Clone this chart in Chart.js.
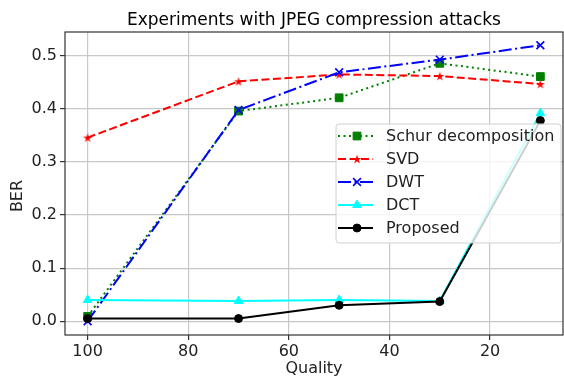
<!DOCTYPE html>
<html>
<head>
<meta charset="utf-8">
<script src="https://cdn.jsdelivr.net/npm/chart.js@4.4.0/dist/chart.umd.min.js"></script>
<style>
  html, body { margin: 0; padding: 0; background: #fff; }
  #wrap { width: 564px; height: 378px; }
</style>
</head>
<body>
<div id="wrap"><canvas id="berChart" width="564" height="378"></canvas></div>
<script>
// JPEG quality (x) and BER of each method
const quality = [100, 70, 50, 30, 10];
const schurBer = [0.009, 0.396, 0.421, 0.486, 0.461];
const svdBer = [0.346, 0.452, 0.465, 0.462, 0.447];
const dwtBer = [0.0, 0.398, 0.469, 0.493, 0.52];
const dctBer = [0.04, 0.038, 0.04, 0.038, 0.392];
const proposedBer = [0.005, 0.005, 0.03, 0.037, 0.378];

const xTicks = [100, 80, 60, 40, 20];
const yTicks = [0.0, 0.1, 0.2, 0.3, 0.4, 0.5];

const FONT = 'DejaVu Sans';
Chart.defaults.font.family = FONT;
Chart.defaults.font.size = 16;
Chart.defaults.color = '#222';

// matplotlib style filled star marker
function makeStar(color, r) {
    const s = 12;
    const c = document.createElement('canvas');
    c.width = s;
    c.height = s;
    const g = c.getContext('2d');
    g.translate(s / 2, s / 2 + 0.5);
    g.beginPath();
    for (let i = 0; i < 10; i++) {
        const rad = i % 2 === 0 ? r : r * 0.382;
        const a = -Math.PI / 2 + i * Math.PI / 5;
        g.lineTo(rad * Math.cos(a), rad * Math.sin(a));
    }
    g.closePath();
    g.fillStyle = color;
    g.fill();
    return c;
}

const series = [
    { label: 'Schur decomposition', values: schurBer, color: '#008000', dash: [2, 3.5], style: 'rect', radius: 5.5, order: 5 },
    { label: 'SVD', values: svdBer, color: '#ff0000', dash: [8, 3.5], style: makeStar('#ff0000', 4.8), radius: 5, order: 4 },
    { label: 'DWT', values: dwtBer, color: '#0000ff', dash: [13, 3.5, 2, 3.5], style: 'crossRot', radius: 5.5, order: 3 },
    { label: 'DCT', values: dctBer, color: '#00ffff', dash: [], style: 'triangle', radius: 5, order: 2 },
    { label: 'Proposed', values: proposedBer, color: '#000000', dash: [], style: 'circle', radius: 4, order: 1 }
];

const datasets = series.map(s => ({
    label: s.label,
    data: quality.map((q, i) => ({ x: q, y: s.values[i] })),
    borderColor: s.color,
    backgroundColor: s.color,
    borderWidth: 2,
    borderDash: s.dash,
    pointStyle: s.style,
    pointRadius: s.radius,
    pointBackgroundColor: s.color,
    pointBorderColor: s.color,
    pointBorderWidth: s.style === 'crossRot' ? 1.6 : 1,
    showLine: true,
    tension: 0,
    order: s.order
}));

// title, frame, y title and legend box
const extras = {
    id: 'extras',
    afterDraw(chart) {
        const ctx = chart.ctx;
        const a = chart.chartArea;
        ctx.save();

        // axes frame
        ctx.strokeStyle = '#333';
        ctx.lineWidth = 1.2;
        ctx.setLineDash([]);
        ctx.strokeRect(a.left, a.top, a.right - a.left, a.bottom - a.top);

        // title, centred over the plot
        ctx.font = '17px "' + FONT + '"';
        ctx.fillStyle = '#000';
        ctx.textAlign = 'center';
        ctx.textBaseline = 'alphabetic';
        ctx.fillText('Experiments with JPEG compression attacks', (a.left + a.right) / 2, 25);

        // y axis title
        ctx.save();
        ctx.translate(17.5, 196);
        ctx.rotate(-Math.PI / 2);
        ctx.font = '16px "' + FONT + '"';
        ctx.fillStyle = '#222';
        ctx.textAlign = 'center';
        ctx.textBaseline = 'middle';
        ctx.fillText('BER', 0, 0);
        ctx.restore();

        // legend
        const bx = a.right - 227, by = a.top + 92, bw = 225, bh = 119;
        ctx.beginPath();
        ctx.roundRect(bx, by, bw, bh, 3);
        ctx.fillStyle = 'rgba(255,255,255,0.8)';
        ctx.fill();
        ctx.strokeStyle = '#d0d0d0';
        ctx.lineWidth = 1;
        ctx.stroke();

        series.forEach((s, i) => {
            const y = by + 12 + i * 23;
            ctx.beginPath();
            ctx.setLineDash(s.dash);
            ctx.strokeStyle = s.color;
            ctx.lineWidth = 2;
            ctx.moveTo(bx + 2, y);
            ctx.lineTo(bx + 37, y);
            ctx.stroke();
            ctx.setLineDash([]);
            ctx.fillStyle = s.color;
            ctx.strokeStyle = s.color;
            ctx.lineWidth = s.style === 'crossRot' ? 1.6 : 1;
            Chart.helpers.drawPoint(ctx, { pointStyle: s.style, radius: s.radius, rotation: 0, borderWidth: ctx.lineWidth }, bx + 21, y);
            ctx.fillStyle = '#222';
            ctx.font = '16px "' + FONT + '"';
            ctx.textAlign = 'left';
            ctx.textBaseline = 'middle';
            ctx.fillText(s.label, bx + 50, y + 1);
        });
        ctx.restore();
    }
};

const ctx = document.getElementById('berChart').getContext('2d');
const berChart = new Chart(ctx, {
    type: 'scatter',
    data: { datasets: datasets },
    options: {
        responsive: false,
        animation: false,
        layout: { autoPadding: false, padding: { top: 32, right: 1, left: 0, bottom: 0 } },
        plugins: {
            legend: { display: false },
            tooltip: { enabled: false },
            title: { display: false }
        },
        scales: {
            x: {
                type: 'linear',
                reverse: true,
                min: 5.5,
                max: 104.5,
                afterBuildTicks: scale => { scale.ticks = xTicks.map(v => ({ value: v })); },
                afterFit: scale => { scale.height = 43; },
                border: { display: false },
                grid: { color: '#c8c8c8', lineWidth: 1.2, tickColor: '#333', tickLength: 5, tickWidth: 1.2 },
                ticks: { padding: 2, maxRotation: 0, autoSkip: false, color: '#222' },
                title: { display: true, text: 'Quality', color: '#222', padding: { top: 0, bottom: 0 } }
            },
            y: {
                min: -0.026,
                max: 0.545,
                afterBuildTicks: scale => { scale.ticks = yTicks.map(v => ({ value: v })); },
                afterFit: scale => { scale.width = 65; },
                border: { display: false },
                grid: { color: '#c8c8c8', lineWidth: 1.2, tickColor: '#333', tickLength: 5, tickWidth: 1.2 },
                ticks: { padding: 3, color: '#222', callback: v => v.toFixed(1) }
            }
        }
    },
    plugins: [extras]
});
</script>
</body>
</html>
